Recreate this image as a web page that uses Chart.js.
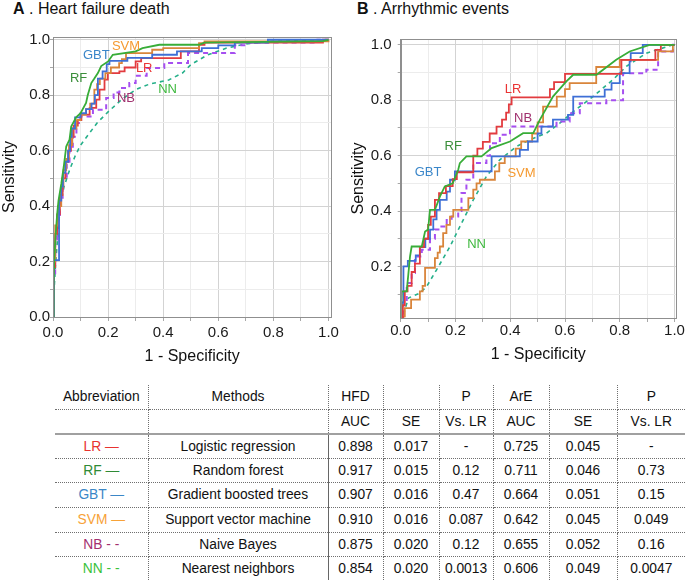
<!DOCTYPE html>
<html>
<head>
<meta charset="utf-8">
<script src="https://cdn.jsdelivr.net/npm/chart.js@4.4.1/dist/chart.umd.min.js"></script>
<style>
  body { margin: 0; background: #fff; width: 685px; height: 581px; overflow: hidden; position: relative;
         font-family: "Liberation Sans", Arial, sans-serif; color: #111; }
  .ttl { position: absolute; top: 0; font-size: 16px; line-height: 18px; white-space: nowrap; }
  canvas { position: absolute; top: 0; }
  #cA { left: 0; }
  #cB { left: 342px; }
  table { position: absolute; left: 55px; top: 385px; border-collapse: collapse; table-layout: fixed; font-size: 13.8px; }
  td { text-align: center; padding: 0; border-right: 1px dotted #6f6f6f; border-bottom: 1px dotted #6f6f6f; white-space: nowrap; }
  td:last-child { border-right: none; }
  tr.h2 td { border-bottom: 2px solid #a0a0a0; }
  tr.last td { border-bottom: none; }
  tr.body td.m { border-right: 1.5px solid #666; }
</style>
</head>
<body>
<div class="ttl" style="left:13px"><b>A</b> . Heart failure death</div>
<div class="ttl" style="left:357px"><b>B</b> . Arrhythmic events</div>
<canvas id="cA" width="342" height="370"></canvas>
<canvas id="cB" width="343" height="370"></canvas>
<table id="tbl"></table>
<script>
// ROC points: [1 - specificity, sensitivity]
// panel A: heart failure death
var lrA = [[0,0],[0.003,0.18],[0.008,0.3],[0.015,0.37],[0.025,0.44],[0.035,0.5],[0.045,0.56],[0.055,0.6],[0.065,0.65],[0.075,0.69],[0.09,0.71],[0.103,0.73],[0.133,0.754],[0.157,0.784],[0.169,0.82],[0.187,0.856],[0.199,0.88],[0.241,0.886],[0.26,0.9],[0.3,0.922],[0.32,0.934],[0.464,0.958],[0.53,0.982],[0.55,0.99],[0.98,1.0],[1,1]];
var rfA = [[0,0],[0.002,0.12],[0.005,0.22],[0.01,0.3],[0.015,0.37],[0.02,0.42],[0.03,0.48],[0.04,0.55],[0.048,0.615],[0.06,0.64],[0.066,0.687],[0.084,0.72],[0.1,0.735],[0.12,0.772],[0.126,0.8],[0.139,0.844],[0.15,0.86],[0.163,0.88],[0.175,0.905],[0.2,0.922],[0.217,0.946],[0.3,0.958],[0.325,0.97],[0.386,0.982],[0.53,0.982],[0.55,0.99],[0.98,0.995],[1,1]];
var gbtA = [[0,0],[0.003,0.205],[0.022,0.42],[0.03,0.47],[0.036,0.52],[0.045,0.56],[0.055,0.6],[0.062,0.65],[0.068,0.68],[0.08,0.72],[0.1,0.735],[0.12,0.75],[0.14,0.77],[0.152,0.8],[0.163,0.86],[0.18,0.886],[0.195,0.912],[0.205,0.924],[0.27,0.935],[0.36,0.946],[0.45,0.958],[0.54,0.97],[0.6,0.98],[0.66,0.99],[0.78,1.0],[1,1]];
var svmA = [[0,0],[0.004,0.2],[0.008,0.33],[0.018,0.4],[0.03,0.47],[0.038,0.53],[0.048,0.57],[0.058,0.62],[0.07,0.68],[0.085,0.71],[0.1,0.73],[0.12,0.75],[0.135,0.77],[0.15,0.82],[0.16,0.84],[0.17,0.86],[0.19,0.88],[0.21,0.9],[0.24,0.916],[0.25,0.93],[0.265,0.952],[0.36,0.964],[0.4,0.97],[0.53,0.988],[0.55,0.994],[1,1]];
var nbA = [[0,0],[0.003,0.15],[0.008,0.28],[0.015,0.36],[0.025,0.43],[0.035,0.5],[0.05,0.56],[0.06,0.6],[0.072,0.65],[0.085,0.7],[0.1,0.723],[0.145,0.748],[0.193,0.79],[0.22,0.81],[0.241,0.826],[0.277,0.844],[0.3,0.87],[0.34,0.898],[0.404,0.916],[0.49,0.952],[0.66,0.98],[0.7,0.99],[0.96,1.0],[1,1]];
var nnA = [[0,0],[0.004,0.1],[0.01,0.2],[0.018,0.3],[0.026,0.4],[0.04,0.47],[0.06,0.53],[0.08,0.58],[0.1,0.62],[0.13,0.66],[0.16,0.7],[0.2,0.74],[0.25,0.785],[0.3,0.82],[0.35,0.84],[0.42,0.855],[0.47,0.88],[0.5,0.91],[0.56,0.945],[0.63,0.97],[0.7,0.985],[0.8,0.995],[1,1]];

// panel B: arrhythmic events
var lrB = [[0,0],[0.008,0.06],[0.015,0.11],[0.025,0.13],[0.04,0.18],[0.052,0.21],[0.07,0.27],[0.085,0.3],[0.1,0.35],[0.11,0.38],[0.125,0.44],[0.14,0.465],[0.165,0.49],[0.19,0.515],[0.205,0.54],[0.265,0.6],[0.28,0.625],[0.3,0.65],[0.325,0.68],[0.35,0.705],[0.37,0.73],[0.385,0.755],[0.395,0.785],[0.405,0.81],[0.545,0.84],[0.56,0.865],[0.6,0.895],[0.806,0.946],[0.93,0.982],[0.95,1.0],[1,1]];
var rfB = [[0,0],[0.004,0.11],[0.022,0.11],[0.034,0.236],[0.04,0.272],[0.077,0.272],[0.089,0.326],[0.1,0.333],[0.107,0.404],[0.125,0.404],[0.143,0.452],[0.161,0.489],[0.19,0.5],[0.21,0.549],[0.216,0.573],[0.24,0.597],[0.295,0.597],[0.332,0.627],[0.399,0.651],[0.447,0.681],[0.484,0.681],[0.508,0.729],[0.556,0.813],[0.605,0.868],[0.63,0.892],[0.715,0.892],[0.787,0.946],[0.836,0.976],[0.909,1.0],[1,1]];
var gbtB = [[0,0],[0.004,0.07],[0.01,0.2],[0.026,0.22],[0.055,0.24],[0.07,0.27],[0.09,0.3],[0.107,0.333],[0.119,0.37],[0.131,0.404],[0.143,0.44],[0.168,0.47],[0.18,0.513],[0.198,0.543],[0.332,0.597],[0.435,0.621],[0.465,0.651],[0.5,0.68],[0.514,0.705],[0.556,0.73],[0.611,0.747],[0.63,0.813],[0.745,0.838],[0.77,0.862],[0.8,0.898],[0.836,0.94],[0.84,0.97],[0.884,1.0],[1,1]];
var svmB = [[0,0],[0.01,0.02],[0.015,0.05],[0.038,0.08],[0.07,0.11],[0.08,0.13],[0.089,0.195],[0.125,0.23],[0.135,0.25],[0.143,0.272],[0.155,0.32],[0.167,0.35],[0.18,0.38],[0.192,0.404],[0.247,0.447],[0.265,0.477],[0.277,0.5],[0.289,0.513],[0.344,0.543],[0.36,0.573],[0.38,0.597],[0.42,0.625],[0.44,0.651],[0.48,0.68],[0.5,0.72],[0.52,0.777],[0.57,0.813],[0.6,0.84],[0.617,0.862],[0.714,0.92],[0.8,0.946],[0.94,0.976],[0.994,1.0],[1,1]];
var nbB = [[0,0],[0.004,0.03],[0.01,0.075],[0.022,0.14],[0.04,0.176],[0.052,0.236],[0.077,0.26],[0.107,0.3],[0.125,0.333],[0.143,0.344],[0.168,0.368],[0.186,0.38],[0.21,0.4],[0.222,0.465],[0.24,0.513],[0.265,0.573],[0.313,0.6],[0.326,0.645],[0.362,0.675],[0.399,0.705],[0.569,0.723],[0.617,0.753],[0.654,0.789],[0.751,0.8],[0.812,0.897],[0.897,0.91],[0.94,0.976],[0.994,1.0],[1,1]];
var nnB = [[0,0],[0.01,0.026],[0.028,0.086],[0.07,0.104],[0.095,0.128],[0.131,0.188],[0.18,0.272],[0.216,0.344],[0.265,0.44],[0.313,0.525],[0.362,0.585],[0.423,0.633],[0.471,0.657],[0.532,0.681],[0.581,0.717],[0.63,0.759],[0.702,0.813],[0.775,0.874],[0.824,0.922],[0.897,0.97],[0.994,1.0],[1,1]];

// curve names written inside the plots: [text, x, y]
var namesA = [['GBT',0.157,0.942],['SVM',0.265,0.976],['RF',0.093,0.862],['LR',0.331,0.898],['NB',0.265,0.79],['NN',0.416,0.822]];
var namesB = [['LR',0.41,0.84],['NB',0.447,0.735],['RF',0.192,0.633],['GBT',0.10,0.54],['SVM',0.441,0.537],['NN',0.277,0.278]];

// table
var abbr = ['LR', 'RF', 'GBT', 'SVM', 'NB', 'NN'];
var abbrMark = ['—', '—', '—', '—', '- -', '- -'];
var methods = ['Logistic regression', 'Random forest', 'Gradient boosted trees', 'Support vector machine', 'Naive Bayes', 'Nearest neighbors'];
var hfdAuc = ['0.898', '0.917', '0.907', '0.910', '0.875', '0.854'];
var hfdSe = ['0.017', '0.015', '0.016', '0.016', '0.020', '0.020'];
var hfdP = ['-', '0.12', '0.47', '0.087', '0.12', '0.0013'];
var areAuc = ['0.725', '0.711', '0.664', '0.642', '0.655', '0.606'];
var areSe = ['0.045', '0.046', '0.051', '0.045', '0.052', '0.049'];
var areP = ['-', '0.73', '0.15', '0.049', '0.16', '0.0047'];

var lineColor = { LR: '#e23b3f', RF: '#38ad38', GBT: '#3e6fd6', SVM: '#d9853b', NB: '#a64ff0', NN: '#26b08a' };
var textColor = { LR: '#ea3434', RF: '#3a8e3a', GBT: '#3a86c9', SVM: '#f59a30', NB: '#a0306e', NN: '#3db83d' };
var tableColor = { LR: '#e8332f', RF: '#2f8a35', GBT: '#3b87c7', SVM: '#f7a238', NB: '#a3306f', NN: '#3bc23b' };

Chart.defaults.font.family = '"Liberation Sans", Arial, sans-serif';
Chart.defaults.color = '#1a1a1a';

function isMajor(c) {
    return c.tick && Math.round(c.tick.value * 10) % 2 === 0;
}

function axis(min, max, title, o) {
    return {
        type: 'linear', min: min, max: max,
        ticks: {
            stepSize: 0.1, includeBounds: false, autoSkip: false, maxRotation: 0,
            padding: o.tickPad, color: '#1a1a1a', font: { size: 15 },
            callback: function(v) { return Math.round(v * 10) % 2 === 0 ? v.toFixed(1) : ''; }
        },
        grid: {
            color: function(c) { return isMajor(c) ? '#d3d3d3' : '#ececec'; },
            tickColor: '#a8a8a8', tickLength: o.tickLen
        },
        border: { color: '#8f8f8f', width: 1 },
        title: { display: true, text: title, color: '#111', font: { size: 16 }, padding: o.titlePad },
        afterFit: function(s) { if (s.isHorizontal()) s.height = o.size; else s.width = o.size; }
    };
}

var framePlugin = {
    id: 'frame',
    afterDraw: function(chart) {
        var a = chart.chartArea, ctx = chart.ctx;
        ctx.save();
        ctx.strokeStyle = '#8f8f8f';
        ctx.lineWidth = 1;
        ctx.strokeRect(Math.round(a.left) + 0.5, Math.round(a.top) + 0.5, Math.round(a.right - a.left), Math.round(a.bottom - a.top));
        ctx.restore();
    }
};

var namesPlugin = {
    id: 'curveNames',
    afterDatasetsDraw: function(chart, args, opts) {
        var ctx = chart.ctx, x = chart.scales.x, y = chart.scales.y;
        ctx.save();
        ctx.font = '13px "Liberation Sans", Arial, sans-serif';
        ctx.textAlign = 'center';
        ctx.textBaseline = 'middle';
        opts.items.forEach(function(n) {
            ctx.fillStyle = textColor[n[0]];
            ctx.fillText(n[0], x.getPixelForValue(n[1]), y.getPixelForValue(n[2]));
        });
        ctx.restore();
    }
};

function ds(name, pts, stepped, dash, width) {
    return {
        label: name,
        data: pts.map(function(p) { return { x: p[0], y: p[1] }; }),
        borderColor: lineColor[name],
        borderWidth: width || 1.8,
        borderDash: dash || [],
        stepped: stepped,
        pointRadius: 0,
        tension: 0,
        fill: false
    };
}

function makeChart(id, sets, names, pad, xo, yo) {
    return new Chart(document.getElementById(id), {
        type: 'line',
        data: { datasets: sets },
        options: {
            responsive: false, animation: false, devicePixelRatio: 1,
            layout: { padding: pad },
            plugins: { legend: { display: false }, tooltip: { enabled: false }, curveNames: { items: names } },
            scales: { x: xo, y: yo }
        },
        plugins: [framePlugin, namesPlugin]
    });
}

makeChart('cA', [
    ds('RF', rfA, false),
    ds('GBT', gbtA, true),
    ds('SVM', svmA, true),
    ds('LR', lrA, true),
    ds('NB', nbA, true, [5, 4], 2),
    ds('NN', nnA, false, [4, 4], 1.6)
], namesA, { top: 37, right: 9, left: 0, bottom: 0 },
    axis(0, 1.01, '1 - Specificity', { tickPad: 3, tickLen: 4, size: 53, titlePad: { top: 0, bottom: 3.7 } }),
    axis(0, 1.01, 'Sensitivity', { tickPad: 0, tickLen: 3, size: 53, titlePad: { top: 0, bottom: 0 } }));

makeChart('cB', [
    ds('RF', rfB, false),
    ds('LR', lrB, true),
    ds('GBT', gbtB, true),
    ds('SVM', svmB, true),
    ds('NB', nbB, true, [5, 4], 2),
    ds('NN', nnB, false, [4, 4], 1.6)
], namesB, { top: 39, right: 8, left: 0, bottom: 0 },
    axis(0, 1.005, '1 - Specificity', { tickPad: 0, tickLen: 4, size: 52, titlePad: { top: 0, bottom: 5.4 } }),
    axis(0.014, 1.021, 'Sensitivity', { tickPad: 6, tickLen: 3, size: 58.7, titlePad: { top: 7.4, bottom: 0 } }));

// build the table
var widths = [93, 180, 55, 56, 54, 56, 68, 68];
var rowH = [24, 25, 24, 24, 25, 25, 24, 24];
var head1 = ['Abbreviation', 'Methods', 'HFD', '', 'P', 'ArE', '', 'P'];
var head2 = ['', '', 'AUC', 'SE', 'Vs. LR', 'AUC', 'SE', 'Vs. LR'];
var tbl = document.getElementById('tbl');
var html = '<colgroup>' + widths.map(function(w) { return '<col style="width:' + w + 'px">'; }).join('') + '</colgroup>';
html += '<tr style="height:' + rowH[0] + 'px">' + head1.map(function(t) { return '<td>' + t + '</td>'; }).join('') + '</tr>';
html += '<tr class="h2" style="height:' + rowH[1] + 'px">' + head2.map(function(t) { return '<td>' + t + '</td>'; }).join('') + '</tr>';
abbr.forEach(function(a, i) {
    var cls = 'body' + (i === abbr.length - 1 ? ' last' : '');
    html += '<tr class="' + cls + '" style="height:' + rowH[i + 2] + 'px">' +
        '<td style="color:' + tableColor[a] + '">' + a + ' ' + abbrMark[i] + '</td>' +
        '<td class="m">' + methods[i] + '</td>' +
        '<td>' + hfdAuc[i] + '</td><td>' + hfdSe[i] + '</td><td>' + hfdP[i] + '</td>' +
        '<td>' + areAuc[i] + '</td><td>' + areSe[i] + '</td><td>' + areP[i] + '</td></tr>';
});
tbl.innerHTML = html;
</script>
</body>
</html>
